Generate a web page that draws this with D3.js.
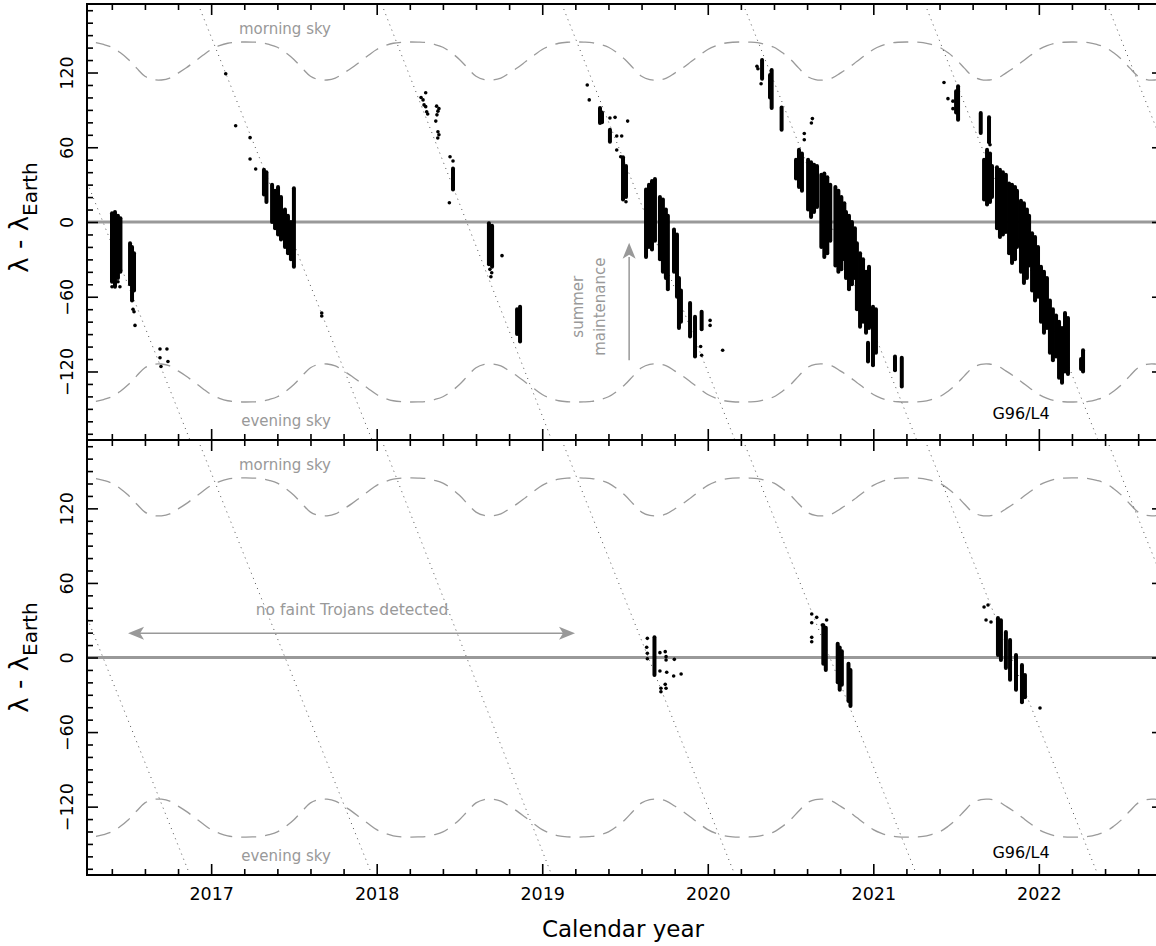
<!DOCTYPE html>
<html><head><meta charset="utf-8">
<script src="https://cdn.jsdelivr.net/npm/d3@7"></script>
<style>
body{margin:0;background:#fff;}
svg{display:block;}
text{font-family:"DejaVu Sans",sans-serif;}
</style>
</head><body>
<svg id="c" width="1156" height="946"></svg>
<script>
// ---------------- data ----------------
const yearTicks = [2017, 2018, 2019, 2020, 2021, 2022];
const lambdaTicks = [-120, -60, 0, 60, 120];

// one-year profile of the "morning sky" limit (repeats every calendar year); evening = mirror
const skyPhase   = [0, 0.05, 0.10, 0.15, 0.20, 0.25, 0.30, 0.35, 0.40, 0.45, 0.50, 0.55, 0.60, 0.65, 0.70, 0.75, 0.80, 0.85, 0.90, 0.95];
const skyMorning = [138.5, 141.5, 143.5, 144.3, 144.5, 144.4, 144.0, 142.5, 140.3, 136.0, 130.5, 123.5, 117.0, 114.3, 114.0, 115.5, 119.5, 123.8, 128.8, 133.8];
const skyYears   = [2015, 2016, 2017, 2018, 2019, 2020, 2021, 2022, 2023];

// dotted L4 tracks: year at lambda = +175 and at lambda = -175
const trackTopYears    = [2015.821, 2016.921, 2018.030, 2019.118, 2020.213, 2021.312, 2022.412];
const trackBottomYears = [2016.872, 2017.972, 2019.057, 2020.164, 2021.262, 2022.357, 2023.458];

// upper panel: nightly streaks [year, lambda_high, lambda_low]
const brightStreaks = [
  [2016.401, 7, -48], [2016.419, 8, -52], [2016.437, 5, -45], [2016.452, 3, -40],
  [2016.510, -17, -50], [2016.522, -20, -63], [2016.534, -25, -55],
  [2017.319, 42, 22], [2017.334, 40, 16],
  [2017.368, 30, 0], [2017.386, 25, -5], [2017.404, 28, -10], [2017.422, 20, -14],
  [2017.446, 10, -20], [2017.464, 5, -25], [2017.482, 0, -30], [2017.500, 27, -36],
  [2018.461, 43, 26],
  [2018.678, -1, -34], [2018.697, -3, -36],
  [2018.848, -70, -90], [2018.866, -68, -96],
  [2019.349, 91.5, 79.5], [2019.361, 88, 80], [2019.409, 74, 64.5], [2019.488, 52, 18], [2019.506, 45, 20],
  [2019.627, 26, -28], [2019.645, 30, -20], [2019.663, 33, -22], [2019.681, 34.5, -15],
  [2019.711, 20, -30], [2019.729, 18, -40], [2019.747, 10, -45], [2019.759, 5, -54],
  [2019.796, -6, -40], [2019.814, -10, -60], [2019.826, -45, -85], [2019.838, -55, -80],
  [2019.893, -65, -92], [2019.923, -76, -108], [2019.963, -72, -86],
  [2020.328, 130, 115], [2020.376, 118, 100], [2020.386, 122, 91.5], [2020.446, 92, 74],
  [2020.533, 50, 35], [2020.551, 58, 28], [2020.569, 55, 25],
  [2020.606, 50, 10], [2020.624, 48, 4], [2020.642, 46, 8], [2020.660, 45, 12],
  [2020.686, 38, -20], [2020.704, 39, -28], [2020.722, 36, -25], [2020.740, 30, -15],
  [2020.771, 28, -35], [2020.789, 25, -40], [2020.807, 20, -38], [2020.825, 15, -30],
  [2020.835, 8, -45], [2020.853, 5, -54], [2020.871, 0, -50], [2020.889, -5, -45],
  [2020.901, -17, -70], [2020.920, -25, -84], [2020.938, -30, -80],
  [2020.956, -40, -89], [2020.974, -36, -85],
  [2020.998, -68, -115], [2021.016, -70, -105],
  [2020.968, -97, -112],
  [2021.131, -108, -119], [2021.172, -109, -132],
  [2021.500, 105, 88], [2021.512, 109, 82],
  [2021.649, 87.5, 71.5], [2021.699, 84, 64],
  [2021.669, 50, 18], [2021.687, 58, 14], [2021.705, 55, 16], [2021.717, 45, 20],
  [2021.747, 44, -5], [2021.765, 42, -12], [2021.783, 40, -10], [2021.801, 38, -8],
  [2021.820, 31, -25], [2021.838, 30, -33], [2021.856, 28, -30], [2021.868, 25, -20],
  [2021.892, 17, -40], [2021.910, 15, -49], [2021.928, 10, -45], [2021.941, 5, -35],
  [2021.959, -9, -55], [2021.977, -12, -63], [2021.995, -20, -60],
  [2022.013, -36, -80], [2022.031, -40, -89], [2022.049, -45, -85],
  [2022.067, -63, -105], [2022.085, -70, -111], [2022.104, -75, -108],
  [2022.122, -80, -125], [2022.140, -85, -129], [2022.158, -73, -120],
  [2022.176, -77, -122],
  [2022.255, -110, -118], [2022.267, -103, -120]
];
// upper panel: isolated detections [year, lambda]
const brightDots = [
  [2016.437, -48], [2016.449, -52], [2016.528, -70], [2016.534, -72], [2016.540, -83], [2016.401, -52],
  [2016.691, -102], [2016.691, -109], [2016.697, -116], [2016.733, -102], [2016.739, -112],
  [2017.088, 119], [2017.148, 77.3], [2017.235, 67.7], [2017.235, 50.6], [2017.269, 42.5],
  [2017.668, -73], [2017.668, -75.5],
  [2018.296, 103.8], [2018.280, 98], [2018.286, 94], [2018.296, 92.6], [2018.302, 88.5], [2018.308, 86.7], [2018.268, 100],
  [2018.362, 93], [2018.370, 89], [2018.364, 86], [2018.357, 81], [2018.370, 72.5], [2018.369, 67.4], [2018.376, 91], [2018.376, 70],
  [2018.443, 52.4], [2018.461, 49], [2018.439, 15.5],
  [2018.695, -40.7], [2018.690, -44], [2018.684, -38], [2018.757, -27],
  [2019.272, 110], [2019.284, 98], [2019.440, 84], [2019.516, 81], [2019.409, 83.5],
  [2019.450, 69], [2019.480, 69], [2019.450, 57.8], [2019.474, 52.4], [2019.506, 16.3],
  [2020.014, -79], [2020.014, -83], [2019.957, -100], [2019.963, -107], [2020.090, -103],
  [2020.297, 125], [2020.303, 123], [2020.322, 111],
  [2020.626, 79.5], [2020.632, 83], [2020.583, 71], [2020.583, 66],
  [2021.427, 112], [2021.451, 99], [2021.481, 97], [2021.481, 91], [2021.705, 62]
];

// lower panel (faint Trojans)
const faintStreaks = [
  [2019.678, 16.2, -14.1],
  [2020.698, 26, -5], [2020.713, 24, -10],
  [2020.785, 11, -20], [2020.797, 8, -26], [2020.810, 5, -22],
  [2020.850, -5, -35], [2020.862, -10, -39],
  [2021.753, 31.8, 2], [2021.771, 30, -2], [2021.801, 20.5, -8.4], [2021.826, 14, -18],
  [2021.862, 2, -26], [2021.898, -6, -36], [2021.916, -14, -32]
];
const faintDots = [
  [2019.635, 15.4], [2019.631, 8.2], [2019.635, 3.4], [2019.635, -1],
  [2019.711, 3.9], [2019.711, -10.9], [2019.743, 4.7], [2019.748, 0.7], [2019.748, -2],
  [2019.752, -11.9], [2019.743, -21.6], [2019.748, -24.8], [2019.717, -24.8], [2019.717, -27.5],
  [2019.798, -1.5], [2019.794, -14.9], [2019.839, -13.3],
  [2020.628, 35], [2020.658, 32.3], [2020.628, 28], [2020.628, 16.2], [2020.628, 12.7],
  [2020.692, 26.1], [2020.718, 30.2],
  [2021.669, 40.6], [2021.693, 42.2], [2021.681, 30.2], [2021.711, 28.6], [2022.007, -40.6]
];

// ---------------- drawing ----------------
const svg = d3.select("#c");
const x = d3.scaleLinear().domain([2016.25, 2022.75]).range([87, 1163]);
const minorYears = d3.range(10082, 10114).map(i => i / 5).filter(v => v % 1 !== 0);
const minorLambda = d3.range(-170, 171, 10).filter(v => v % 60 !== 0);

const skyPts = [];
skyYears.forEach(yr => skyPhase.forEach((ph, j) => skyPts.push([yr + ph, skyMorning[j]])));

const panels = [
  {y0: 4, y1: 440, streaks: brightStreaks, dots: brightDots, tag: 419, showX: false, labelMid: 217.5},
  {y0: 440, y1: 875, streaks: faintStreaks, dots: faintDots, tag: 858, showX: true, labelMid: 657.5}
];

panels.forEach((p, i) => {
  const y = d3.scaleLinear().domain([-175, 175]).range([p.y1, p.y0]);
  const clipId = "clip" + i;
  svg.append("clipPath").attr("id", clipId).append("rect")
    .attr("x", 87).attr("y", p.y0).attr("width", 1076).attr("height", p.y1 - p.y0);
  const g = svg.append("g").attr("clip-path", `url(#${clipId})`);

  const line = d3.line().x(d => x(d[0])).y(d => y(d[1])).curve(d3.curveCatmullRom);
  // sky limits
  [1, -1].forEach(s => {
    g.append("path").attr("d", line(skyPts.map(d => [d[0], s * d[1]])))
      .attr("fill", "none").attr("stroke", "#9a9a9a").attr("stroke-width", 1.3)
      .attr("stroke-dasharray", "15,9");
  });
  // dotted tracks
  trackTopYears.forEach((t, k) => {
    g.append("path").attr("d", d3.line().x(d => x(d[0])).y(d => y(d[1]))([[t, 175], [trackBottomYears[k], -175]]))
      .attr("fill", "none").attr("stroke", "#555").attr("stroke-width", 1)
      .attr("stroke-dasharray", "1,4.5");
  });
  // zero line
  g.append("line").attr("x1", 87).attr("x2", 1163).attr("y1", y(0)).attr("y2", y(0))
    .attr("stroke", "#999").attr("stroke-width", 3);
  // streaks
  g.selectAll("line.st").data(p.streaks).join("line").attr("class", "st")
    .attr("x1", d => x(d[0])).attr("x2", d => x(d[0]))
    .attr("y1", d => y(d[1])).attr("y2", d => y(d[2]))
    .attr("stroke", "#000").attr("stroke-width", 4).attr("stroke-linecap", "round");
  // dots
  g.selectAll("circle").data(p.dots).join("circle")
    .attr("cx", d => x(d[0])).attr("cy", d => y(d[1])).attr("r", 1.8).attr("fill", "#000");

  // text annotations
  const gray = "#999";
  svg.append("text").attr("x", 285).attr("y", p.y0 + 30).attr("text-anchor", "middle")
    .attr("font-size", 15).attr("fill", gray).text("morning sky");
  svg.append("text").attr("x", 286).attr("y", p.y1 - 14).attr("text-anchor", "middle")
    .attr("font-size", 15).attr("fill", gray).text("evening sky");
  svg.append("text").attr("x", 1021).attr("y", p.tag).attr("text-anchor", "middle")
    .attr("font-size", 16).attr("fill", "#000").text("G96/L4");

  // axes
  const styleAxis = a => { a.select(".domain").remove(); a.selectAll("line").attr("stroke", "#000").attr("stroke-width", 1.6); a.selectAll("text").attr("font-size", 17.5).attr("font-family", "DejaVu Sans").attr("fill", "#000"); };
  svg.append("g").attr("transform", `translate(0,${p.y1})`)
    .call(d3.axisBottom(x).tickValues(yearTicks).tickSize(-11).tickPadding(13).tickFormat(p.showX ? d3.format("d") : () => ""))
    .call(styleAxis);
  svg.append("g").attr("transform", `translate(0,${p.y1})`)
    .call(d3.axisBottom(x).tickValues(minorYears).tickSize(-6).tickFormat(() => "")).call(styleAxis);
  svg.append("g").attr("transform", `translate(0,${p.y0})`)
    .call(d3.axisTop(x).tickValues(yearTicks).tickSize(-11).tickFormat(() => "")).call(styleAxis);
  svg.append("g").attr("transform", `translate(0,${p.y0})`)
    .call(d3.axisTop(x).tickValues(minorYears).tickSize(-6).tickFormat(() => "")).call(styleAxis);
  const la = svg.append("g").attr("transform", `translate(87,0)`)
    .call(d3.axisLeft(y).tickValues(lambdaTicks).tickSize(-11).tickFormat(d => d < 0 ? "\u2212" + Math.abs(d) : d))
    .call(styleAxis);
  la.selectAll("text").attr("x", null).attr("dy", null).attr("text-anchor", "middle")
    .attr("transform", "translate(-14,0) rotate(-90)");
  svg.append("g").attr("transform", `translate(87,0)`)
    .call(d3.axisLeft(y).tickValues(minorLambda).tickSize(-6).tickFormat(() => "")).call(styleAxis);
  svg.append("g").attr("transform", `translate(1163,0)`)
    .call(d3.axisRight(y).tickValues(lambdaTicks).tickSize(-11).tickFormat(() => "")).call(styleAxis);
  svg.append("g").attr("transform", `translate(1163,0)`)
    .call(d3.axisRight(y).tickValues(minorLambda).tickSize(-6).tickFormat(() => "")).call(styleAxis);

  // frame
  svg.append("rect").attr("x", 87).attr("y", p.y0).attr("width", 1076).attr("height", p.y1 - p.y0)
    .attr("fill", "none").attr("stroke", "#000").attr("stroke-width", 2);

  // y-axis title
  const yt = svg.append("text").attr("transform", `translate(28,${p.labelMid}) rotate(-90)`)
    .attr("text-anchor", "middle").attr("font-size", 26).attr("fill", "#000");
  yt.append("tspan").text("\u03bb  -  \u03bb");
  yt.append("tspan").attr("font-size", 20).attr("dy", 9).text("Earth");

  p.y = y;
});

// annotations (upper panel)
const yT = panels[0].y, yB = panels[1].y;
const grayA = "#999";
svg.append("line").attr("x1", x(2019.525)).attr("x2", x(2019.525)).attr("y1", yT(-111)).attr("y2", yT(-28))
  .attr("stroke", grayA).attr("stroke-width", 1.5);
svg.append("path").attr("d", `M${x(2019.525)},${yT(-16.6)} l-6.5,16 l6.5,-4 l6.5,4 z`).attr("fill", grayA);
const sm = svg.append("text").attr("transform", `translate(${x(2019.525) - 46},${yT(-68)}) rotate(-90)`)
  .attr("text-anchor", "middle").attr("font-size", 15).attr("fill", grayA);
sm.append("tspan").attr("x", 0).attr("dy", 0).text("summer");
sm.append("tspan").attr("x", 0).attr("dy", 22).text("maintenance");

// annotations (lower panel)
const ay = yB(19.5);
svg.append("line").attr("x1", x(2016.498) + 8).attr("x2", x(2019.198) - 8).attr("y1", ay).attr("y2", ay)
  .attr("stroke", grayA).attr("stroke-width", 1.5);
svg.append("path").attr("d", `M${x(2016.498)},${ay} l16,-6.5 l-4,6.5 l4,6.5 z`).attr("fill", grayA);
svg.append("path").attr("d", `M${x(2019.198)},${ay} l-16,-6.5 l4,6.5 l-4,6.5 z`).attr("fill", grayA);
svg.append("text").attr("x", 352).attr("y", ay - 18).attr("text-anchor", "middle")
  .attr("font-size", 15.5).attr("fill", grayA).text("no faint Trojans detected");

// x-axis title
svg.append("text").attr("x", 623).attr("y", 937).attr("text-anchor", "middle")
  .attr("font-size", 23).attr("fill", "#000").text("Calendar year");
</script>
</body></html>
